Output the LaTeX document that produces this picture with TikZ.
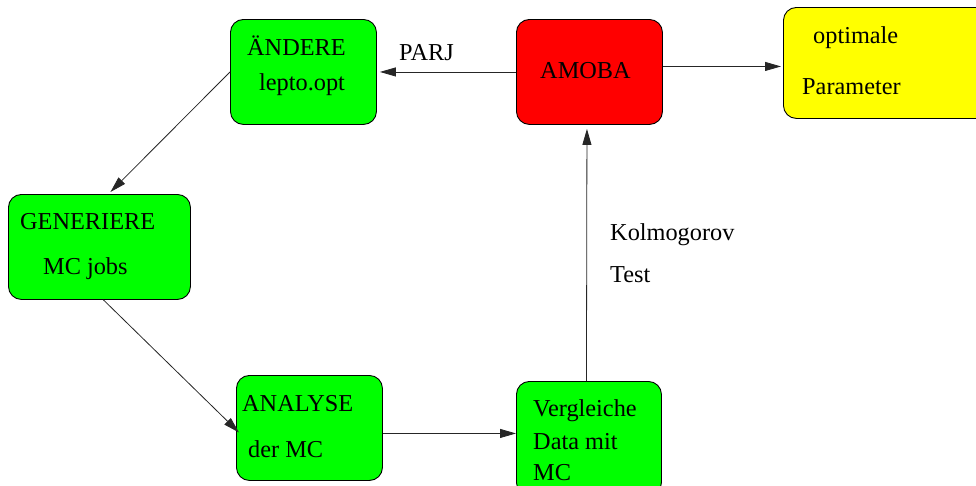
\documentclass[tikz,border=0pt]{standalone}
\usepackage{fontspec}
\setmainfont{Liberation Serif}
\usetikzlibrary{arrows.meta}
\begin{document}
\begin{tikzpicture}[x=1pt,y=-1pt,
  box/.style={draw=black,line width=0.9pt,rounded corners=13pt,inner sep=0pt,anchor=north west},
  lbl/.style={anchor=base west,inner sep=0pt,font=\fontsize{24.3}{29}\selectfont},
  arr/.style={draw=black!85,line width=0.8pt,-{Triangle[length=16pt,width=9pt]}}]
\useasboundingbox (0,0) rectangle (976,485);
% boxes
\node[box,fill={rgb,255:red,0;green,255;blue,0},minimum width=146pt,minimum height=105pt] (andere) at (230,19) {};
\node[box,fill={rgb,255:red,0;green,255;blue,0},minimum width=182pt,minimum height=105pt] (gen) at (8,194) {};
\node[box,fill={rgb,255:red,0;green,255;blue,0},minimum width=146pt,minimum height=105pt] (ana) at (236,375) {};
\node[box,fill={rgb,255:red,0;green,255;blue,0},minimum width=145pt,minimum height=114pt] (ver) at (516,381) {};
\node[box,fill={rgb,255:red,255;green,0;blue,0},minimum width=146pt,minimum height=105pt] (amoba) at (516,19) {};
\node[box,fill={rgb,255:red,255;green,255;blue,0},minimum width=215pt,minimum height=111pt] (opt) at (783,7) {};
% texts
\node[lbl] (t1) at (247,55) {ÄNDERE};
\node[lbl] (t2) at (259,90) {lepto.opt};
\node[lbl] (t3) at (20,229) {GENERIERE};
\node[lbl] (t4) at (43,274) {MC jobs};
\node[lbl] (t5) at (242,411) {ANALYSE};
\node[lbl] (t6) at (248,457) {der MC};
\node[lbl] (t7) at (533,416) {Vergleiche};
\node[lbl] (t8) at (533,449) {Data mit};
\node[lbl] (t9) at (533,480) {MC};
\node[lbl] (t10) at (540,78) {AMOBA};
\node[lbl] (t11) at (813,43) {optimale};
\node[lbl] (t12) at (802,94) {Parameter};
\node[lbl] (parj) at (399,60) {PARJ};
\node[lbl] (kol) at (610,240) {Kolmogorov};
\node[lbl] (test) at (610,282) {Test};
% connectors
\draw[arr] (amoba.west) -- ([xshift=3pt]andere.east);
\draw[arr] ([yshift=5.5pt]amoba.east) -- ([yshift=-3.5pt,xshift=-2pt]opt.west);
\draw[arr] (andere.west) -- ([xshift=11pt,yshift=2pt]gen.north);
\draw[arr] ([xshift=4pt]gen.south) -- ([xshift=3pt,yshift=-4.5pt]ana.west);
\draw[arr] ([yshift=-5.5pt]ana.east) -- ([yshift=5pt]ver.west);
\draw[arr] ([xshift=-2.5pt]ver.north) -- ([xshift=-2.5pt,yshift=-4pt]amoba.south);
\end{tikzpicture}
\end{document}
